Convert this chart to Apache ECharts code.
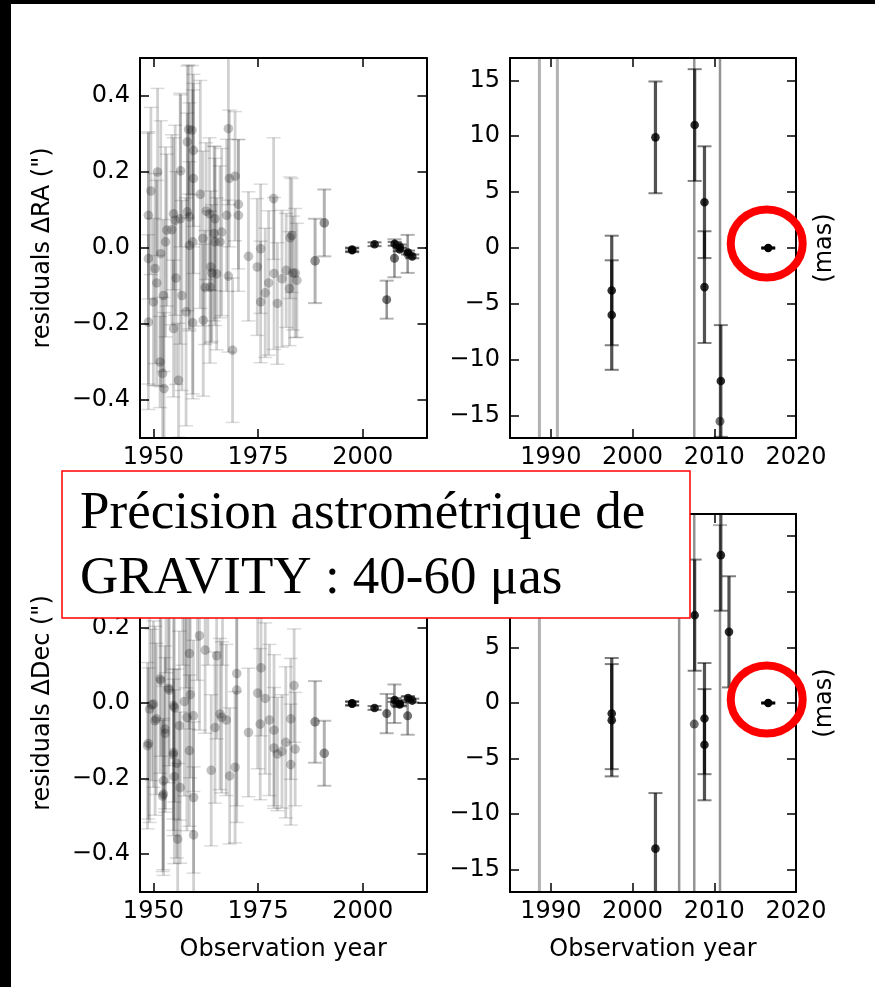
<!DOCTYPE html>
<html><head><meta charset="utf-8">
<script src="https://cdn.jsdelivr.net/npm/echarts@6/dist/echarts.min.js"></script>
<style>html,body{margin:0;padding:0;background:#fff}#c{width:875px;height:987px}</style>
</head><body><div id="c"></div><script>
// ---------- DATA ----------
// Old astrometry (arcsec), RA residuals
const raOldYears = [1948.8,1949.4,1948.8,1948.8,1950.0,1950.4,1950.8,1951.0,1951.75,1951.6,1952.2,1952.55,1952.4,1952.9,1953.2,1954.4,1954.8,1955.2,1954.8,1955.4,1956.0,1956.4,1956.5,1956.8,1957.8,1958.1,1958.4,1959.2,1959.55,1959.55,1958.1,1958.6,1958.6,1959.4,1959.4,1961.2,1961.9,1961.8,1962.6,1963.4,1962.35,1963.5,1963.7,1963.95,1964.5,1964.7,1964.7,1965.1,1965.9,1966.3,1967.5,1967.9,1968.15,1969.5,1967.9,1968.9,1970.3,1970.3,1972.7,1974.8,1975.6,1975.6,1976.7,1977.5,1978.7,1978.8,1979.6,1980.7,1981.7,1982.5,1982.65,1983.05,1983.3,1983.85,1984.25];
const raOld = [0.086,0.15,-0.028,-0.195,-0.142,-0.054,-0.092,0.2,-0.015,-0.3,-0.33,-0.37,-0.125,0.016,0.047,0.048,0.09,0.073,-0.212,-0.079,-0.348,0.077,0.203,-0.125,-0.168,0.279,0.312,0.31,0.257,0.183,0.095,0.082,0.007,0.016,-0.197,0.141,-0.19,0.025,0.097,0.09,-0.104,-0.103,-0.05,-0.066,0.038,0.016,0.077,-0.068,0.016,0.042,0.086,0.314,0.183,0.189,-0.074,-0.269,0.115,0.086,-0.022,-0.05,-0.002,-0.142,-0.118,-0.092,0.13,-0.067,-0.146,-0.081,-0.059,-0.107,0.027,0.033,-0.066,-0.066,-0.085];
const raOldErr = [0.22,0.22,0.33,0.23,0.22,0.25,0.27,0.22,0.35,0.12,0.2,0.2,0.2,0.25,0.2,0.25,0.2,0.25,0.18,0.28,0.15,0.33,0.2,0.25,0.3,0.2,0.17,0.17,0.2,0.25,0.26,0.3,0.22,0.4,0.2,0.3,0.2,0.23,0.18,0.2,0.15,0.2,0.2,0.18,0.23,0.22,0.19,0.2,0.2,0.22,0.2,0.2,0.18,0.17,0.2,0.19,0.17,0.2,0.17,0.18,0.17,0.16,0.17,0.19,0.16,0.2,0.16,0.18,0.15,0.15,0.16,0.15,0.15,0.17,0.15];
// Old astrometry (arcsec), Dec residuals
const decOldYears = [1948.6,1948.8,1949.1,1949.6,1950.0,1950.4,1950.7,1951.6,1951.8,1952.2,1952.4,1952.4,1952.8,1952.8,1953.6,1953.8,1954.8,1954.8,1954.8,1955.0,1955.0,1955.6,1955.8,1956.2,1956.4,1957.4,1958.0,1958.6,1958.6,1958.8,1959.55,1959.6,1959.6,1961.0,1962.35,1963.8,1964.7,1965.1,1965.9,1966.3,1967.4,1968.2,1969.5,1969.9,1969.9,1972.7,1974.9,1975.7,1975.5,1976.7,1977.7,1978.8,1978.8,1979.6,1980.7,1981.6,1982.8,1982.8,1983.6,1983.85,1953.0,1957.0,1960.5,1963.0,1966.5,1957.8];
const decOld = [-0.113,-0.107,-0.016,-0.005,-0.003,-0.047,-0.042,0.064,0.059,-0.246,-0.206,-0.241,-0.08,-0.069,0.039,0.034,-0.007,-0.131,-0.137,-0.195,-0.012,-0.16,-0.36,-0.06,-0.224,0.004,-0.038,0.131,-0.126,0.022,-0.034,-0.25,-0.349,0.178,0.14,-0.178,-0.065,0.125,-0.029,-0.038,-0.045,-0.193,-0.17,0.078,0.034,-0.078,0.026,0.093,-0.056,0.012,-0.045,-0.072,-0.119,-0.135,-0.128,-0.104,-0.042,-0.163,0.046,-0.122,0.28,0.32,0.26,0.35,0.3,0.24];
const decOldErr = [0.22,0.2,0.3,0.2,0.22,0.25,0.2,0.25,0.2,0.2,0.25,0.2,0.2,0.22,0.25,0.2,0.3,0.22,0.2,0.23,0.25,0.25,0.2,0.25,0.2,0.25,0.3,0.2,0.2,0.22,0.2,0.2,0.18,0.25,0.22,0.2,0.2,0.22,0.2,0.2,0.2,0.18,0.2,0.35,0.35,0.17,0.2,0.18,0.2,0.2,0.2,0.2,0.16,0.15,0.15,0.2,0.16,0.16,0.15,0.15,0.2,0.22,0.2,0.25,0.2,0.2];
// 1988-1990 epochs (arcsec)
const midYears = [1988.6,1990.8];
const raMid = [-0.034,0.066];
const raMidErr = [0.111,0.088];
const decMid = [-0.05,-0.133];
const decMidErr = [0.108,0.086];
// intermediate-precision 2005-2010 epochs (arcsec)
const interYears = [2005.7,2007.55,2010.7];
const raInter = [-0.136,-0.027,-0.0155];
const raInterErr = [0.05,0.05,0.05];
const decInter = [-0.028,-0.0019,-0.034];
const decInterErr = [0.052,0.051,0.05];
// NACO-era epochs (mas)
const recentYears = [1997.45,1997.45,2002.8,2007.6,2008.8,2008.8,2010.8,2011.8];
const raRecent = [-3.8,-6.0,9.9,11.0,4.1,-3.5,-11.9,-22.0];
const raRecentErr = [4.9,4.9,5.0,5.0,5.0,5.0,5.0,5.0];
const decRecent = [-0.95,-1.55,-13.1,7.9,-1.4,-3.75,13.3,6.4];
const decRecentErr = [5.0,5.05,5.0,5.0,5.0,5.0,5.0,5.0];
// GRAVITY epoch (mas)
const gravYears = [2016.6];
const raGrav = [0.0];
const raGravErr = [0.05];
const decGrav = [0.0];
const decGravErr = [0.05];
// tick labels
const leftXTicks = [1950,1975,2000];
const rightXTicks = [1990,2000,2010,2020];
const leftYTicks = [-0.4,-0.2,0.0,0.2,0.4];
const rightYTicks = [-15,-10,-5,0,5,10,15];
const boxLines = ['Précision astrométrique de','GRAVITY : 40-60 μas'];

// ---------- CHART ----------
const chart = echarts.init(document.getElementById('c'), null, {renderer:'canvas'});
const FONT = 'DejaVu Sans';
const grids = [
  {left:140, top:58, width:286.5, height:380},
  {left:510, top:58, width:286, height:380},
  {left:140, top:514, width:286.5, height:378},
  {left:510, top:514, width:286, height:378}
];
const minus = v => (v < 0 ? '\u2212' : '');
const fmtL = v => minus(v) + Math.abs(v).toFixed(1);
const fmtR = v => minus(v) + Math.abs(v);

const xAxes = [], yAxes = [];
grids.forEach((g, gi) => {
  const isLeft = gi % 2 === 0, isBottom = gi >= 2;
  const xr = isLeft ? [1946.8, 2015.2] : [1985, 2020];
  const yr = isLeft ? [-0.5, 0.5] : [-17, 17];
  const xt = isLeft ? leftXTicks : rightXTicks;
  const yt = isLeft ? leftYTicks : rightYTicks;
  const line = {show:true, onZero:false, lineStyle:{color:'#000', width:2}};
  const tick = vals => ({show:true, inside:true, length:9, customValues:vals, lineStyle:{color:'#000', width:1.5}});
  xAxes.push({type:'value', gridIndex:gi, position:'bottom', min:xr[0], max:xr[1], axisLine:line, axisTick:tick(xt), splitLine:{show:false},
    axisLabel:{show:true, customValues:xt, formatter:v=>String(v), fontFamily:FONT, fontSize:24, color:'#000', margin:8},
    name: isBottom ? 'Observation year' : '', nameLocation:'middle', nameGap:45.5,
    nameTextStyle:{fontFamily:FONT, fontSize:24, color:'#000'}});
  xAxes.push({type:'value', gridIndex:gi, position:'top', min:xr[0], max:xr[1], axisLine:line, axisTick:tick(xt), splitLine:{show:false}, axisLabel:{show:false}});
  yAxes.push({type:'value', gridIndex:gi, position:'left', min:yr[0], max:yr[1], axisLine:line, axisTick:tick(yt), splitLine:{show:false},
    axisLabel:{show:true, customValues:yt, formatter:isLeft?fmtL:fmtR, fontFamily:FONT, fontSize:24, color:'#000', margin:10},
    name: isLeft ? (isBottom ? 'residuals \u0394Dec (")' : 'residuals \u0394RA (")') : '', nameLocation:'middle', nameGap:85,
    nameTextStyle:{fontFamily:FONT, fontSize:24, color:'#000'}});
  yAxes.push({type:'value', gridIndex:gi, position:'right', min:yr[0], max:yr[1], axisLine:line, axisTick:tick(yt), splitLine:{show:false}, axisLabel:{show:false},
    name: isLeft ? '' : '(mas)', nameLocation:'middle', nameGap:17,
    nameTextStyle:{fontFamily:FONT, fontSize:24, color:'#000'}});
});

function makeRender(st) {
  return function (params, api) {
    const x = api.value(0), y = api.value(1), e = api.value(2);
    const p = api.coord([x, y]);
    const hi = api.coord([x, y + e]);
    const lo = api.coord([x, y - e]);
    const c = st.cap;
    return {type:'group', children:[
      {type:'line', shape:{x1:p[0], y1:hi[1], x2:p[0], y2:lo[1]}, style:{stroke:st.bar, lineWidth:st.bw}},
      {type:'line', shape:{x1:p[0]-c, y1:hi[1], x2:p[0]+c, y2:hi[1]}, style:{stroke:st.capc, lineWidth:st.cw}},
      {type:'line', shape:{x1:p[0]-c, y1:lo[1], x2:p[0]+c, y2:lo[1]}, style:{stroke:st.capc, lineWidth:st.cw}},
      {type:'circle', shape:{cx:p[0], cy:p[1], r:st.r}, style:{fill:st.marker}}
    ]};
  };
}
const styles = {
  old:    {bar:'rgba(0,0,0,0.18)', capc:'rgba(0,0,0,0.14)', marker:'rgba(0,0,0,0.24)', bw:2.8, cw:1.5, r:4.8, cap:7},
  mid:    {bar:'rgba(0,0,0,0.3)',  capc:'rgba(0,0,0,0.25)', marker:'rgba(0,0,0,0.4)', bw:3, cw:2, r:4.8, cap:7},
  inter:  {bar:'rgba(0,0,0,0.42)', capc:'rgba(0,0,0,0.3)', marker:'rgba(0,0,0,0.55)', bw:2.5, cw:2, r:4.5, cap:7},
  recent: {bar:'rgba(0,0,0,0.68)', capc:'rgba(0,0,0,0.5)', marker:'rgba(0,0,0,0.82)', bw:3.2, cw:2, r:4.3, cap:7},
  grav:   {bar:'#000', capc:'#000', marker:'#000', bw:2, cw:2, r:4.2, cap:7}
};
function pack(years, vals, errs, k) { return years.map((y, i) => [y, vals[i]*k, errs[i]*k]); }
const groups = [
  {name:'old',    ra:[raOldYears, raOld, raOldErr],         dec:[decOldYears, decOld, decOldErr],         unit:'arcsec'},
  {name:'mid',    ra:[midYears, raMid, raMidErr],           dec:[midYears, decMid, decMidErr],            unit:'arcsec'},
  {name:'inter',  ra:[interYears, raInter, raInterErr],     dec:[interYears, decInter, decInterErr],      unit:'arcsec'},
  {name:'recent', ra:[recentYears, raRecent, raRecentErr],  dec:[recentYears, decRecent, decRecentErr],   unit:'mas'},
  {name:'grav',   ra:[gravYears, raGrav, raGravErr],        dec:[gravYears, decGrav, decGravErr],         unit:'mas'}
];
const series = [];
[0,1,2,3].forEach(gi => {
  const isLeft = gi % 2 === 0, isDec = gi >= 2;
  groups.forEach(g => {
    const k = isLeft ? (g.unit === 'arcsec' ? 1 : 0.001) : (g.unit === 'arcsec' ? 1000 : 1);
    const src = isDec ? g.dec : g.ra;
    series.push({type:'custom', name:g.name, xAxisIndex:2*gi, yAxisIndex:2*gi, clip:true, silent:true,
      renderItem:makeRender(styles[g.name]), encode:{x:0, y:1},
      data:pack(src[0], src[1], src[2], k)});
  });
});

chart.setOption({
  animation:false,
  backgroundColor:'#fff',
  grid:grids,
  xAxis:xAxes,
  yAxis:yAxes,
  series:series
});

// annotations
const ringTop = chart.convertToPixel({xAxisIndex:2, yAxisIndex:2}, [gravYears[0], raGrav[0]]);
const ringBot = chart.convertToPixel({xAxisIndex:6, yAxisIndex:6}, [gravYears[0], decGrav[0]]);
chart.setOption({graphic:[
  {type:'rect', z:200, shape:{x:0, y:0, width:11, height:987}, style:{fill:'#000'}},
  {type:'rect', z:200, shape:{x:0, y:0, width:875, height:4}, style:{fill:'#000'}},
  {type:'ellipse', z:150, shape:{cx:ringTop[0]-1.5, cy:ringTop[1]-4.5, rx:36, ry:34}, style:{fill:'none', stroke:'#ff0000', lineWidth:8}},
  {type:'ellipse', z:150, shape:{cx:ringBot[0]-1.5, cy:ringBot[1]-3.5, rx:36, ry:34}, style:{fill:'none', stroke:'#ff0000', lineWidth:8}},
  {type:'rect', z:160, shape:{x:62, y:471, width:628, height:147}, style:{fill:'#fff', stroke:'#ff0000', lineWidth:1.5}},
  {type:'text', z:161, x:80, y:514, style:{text:boxLines[0], font:'53px "Liberation Serif"', fill:'#000', align:'left', verticalAlign:'middle', textAlign:'left', textVerticalAlign:'middle'}},
  {type:'text', z:161, x:80, y:579, style:{text:boxLines[1], font:'53px "Liberation Serif"', fill:'#000', align:'left', verticalAlign:'middle', textAlign:'left', textVerticalAlign:'middle'}}
]});
</script></body></html>
